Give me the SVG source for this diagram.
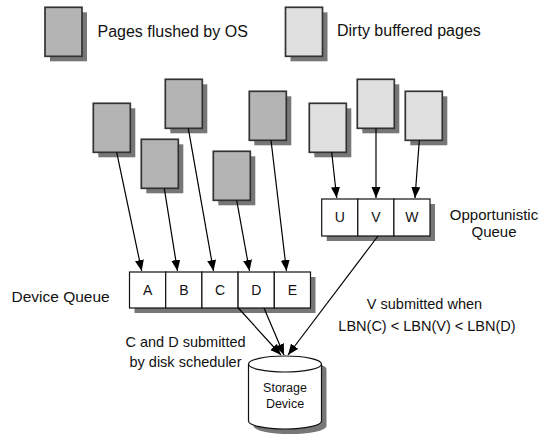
<svg xmlns="http://www.w3.org/2000/svg" width="542" height="434" viewBox="0 0 542 434">
  <defs>
    <style>
      text { font-family: "Liberation Sans", Arial, sans-serif; fill: #111; }
      .shadow { fill: #777; filter: url(#soft); }
      .page { stroke: #333; stroke-width: 1.7; }
      .dark { fill: #b4b4b4; }
      .light { fill: #e0e0e0; }
      .cell { fill: #fff; stroke: #111; stroke-width: 1.2; }
      .wire { stroke: #000; stroke-width: 1.2; fill: none; marker-end: url(#arrow); }
      .lbl { font-size: 14px; text-anchor: middle; }
      .legend { font-size: 16px; }
      .note { font-size: 14.5px; text-anchor: middle; }
    </style>
    <filter id="soft" x="-20%" y="-20%" width="140%" height="140%">
      <feGaussianBlur stdDeviation="0.7"/>
    </filter>
    <marker id="arrow" markerUnits="userSpaceOnUse" markerWidth="12" markerHeight="10" refX="11" refY="4.5" orient="auto">
      <path d="M0,0 L11,4.5 L0,9 z" fill="#000"/>
    </marker>
    <!-- drop shadow behind a page -->
    <g id="pageShape">
      <rect class="shadow" x="5" y="5" width="37" height="49"/>
    </g>
  </defs>

  <!-- legend -->
  <g id="legend-flushed">
    <use href="#pageShape" x="45" y="7.3"/>
    <rect class="page dark" x="45" y="7.3" width="37" height="49"/>
    <text class="legend" x="97.5" y="37">Pages flushed by OS</text>
  </g>
  <g id="legend-dirty">
    <use href="#pageShape" x="285.5" y="7.3"/>
    <rect class="page light" x="285.5" y="7.3" width="37" height="49"/>
    <text class="legend" x="337" y="35.5">Dirty buffered pages</text>
  </g>

  <!-- pages flushed by the OS -->
  <g id="page-a"><use href="#pageShape" x="93.3" y="103.3"/><rect class="page dark" x="93.3" y="103.3" width="37" height="49"/></g>
  <g id="page-b"><use href="#pageShape" x="141.3" y="139.3"/><rect class="page dark" x="141.3" y="139.3" width="37" height="49"/></g>
  <g id="page-c"><use href="#pageShape" x="165.3" y="79.3"/><rect class="page dark" x="165.3" y="79.3" width="37" height="49"/></g>
  <g id="page-d"><use href="#pageShape" x="213.3" y="151.3"/><rect class="page dark" x="213.3" y="151.3" width="37" height="49"/></g>
  <g id="page-e"><use href="#pageShape" x="249.3" y="91.3"/><rect class="page dark" x="249.3" y="91.3" width="37" height="49"/></g>

  <!-- dirty buffered pages -->
  <g id="page-u"><use href="#pageShape" x="309.3" y="103.3"/><rect class="page light" x="309.3" y="103.3" width="37" height="49"/></g>
  <g id="page-v"><use href="#pageShape" x="357.3" y="79.3"/><rect class="page light" x="357.3" y="79.3" width="37" height="49"/></g>
  <g id="page-w"><use href="#pageShape" x="405.3" y="91.3"/><rect class="page light" x="405.3" y="91.3" width="37" height="49"/></g>

  <!-- device queue -->
  <g id="device-queue">
    <rect class="shadow" x="134.5" y="277" width="181" height="36"/>
    <rect class="cell" x="129.5" y="272" width="36.2" height="36"/>
    <rect class="cell" x="165.7" y="272" width="36.2" height="36"/>
    <rect class="cell" x="201.9" y="272" width="36.2" height="36"/>
    <rect class="cell" x="238.1" y="272" width="36.2" height="36"/>
    <rect class="cell" x="274.3" y="272" width="36.2" height="36"/>
    <text class="lbl" x="147.6" y="294.5">A</text>
    <text class="lbl" x="183.8" y="294.5">B</text>
    <text class="lbl" x="220" y="294.5">C</text>
    <text class="lbl" x="256.2" y="294.5">D</text>
    <text class="lbl" x="292.4" y="294.5">E</text>
    <text x="11.5" y="302" style="font-size:15.5px">Device Queue</text>
  </g>

  <!-- opportunistic queue -->
  <g id="opportunistic-queue">
    <rect class="shadow" x="326.7" y="204" width="108.3" height="37"/>
    <rect class="cell" x="321.7" y="199" width="36.1" height="37"/>
    <rect class="cell" x="357.8" y="199" width="36.1" height="37"/>
    <rect class="cell" x="393.9" y="199" width="36.1" height="37"/>
    <text class="lbl" x="339.7" y="222">U</text>
    <text class="lbl" x="375.8" y="222">V</text>
    <text class="lbl" x="411.9" y="222">W</text>
    <text x="494" y="220" style="font-size:15px;text-anchor:middle">Opportunistic</text>
    <text x="494" y="237" style="font-size:15px;text-anchor:middle">Queue</text>
  </g>

  <!-- storage device (cylinder) -->
  <g id="storage-device">
    <path class="shadow" d="M253.5,369 A36.5,8 0 0 1 326.5,369 L326.5,426 A36.5,8 0 0 1 253.5,426 Z"/>
    <path d="M248.5,364 A36.5,8 0 0 1 321.5,364 L321.5,421 A36.5,8 0 0 1 248.5,421 Z" fill="#fff" stroke="#111" stroke-width="1.2"/>
    <path d="M248.5,364 A36.5,8 0 0 0 321.5,364" fill="none" stroke="#111" stroke-width="1.2"/>
    <text x="285" y="392" style="font-size:12.5px;text-anchor:middle">Storage</text>
    <text x="285" y="408" style="font-size:12.5px;text-anchor:middle">Device</text>
  </g>

  <!-- annotations -->
  <g id="notes">
    <text class="note" x="185.5" y="347">C and D submitted</text>
    <text class="note" x="185.5" y="367">by disk scheduler</text>
    <text class="note" x="424.5" y="309">V submitted when</text>
    <text class="note" x="427" y="330.5">LBN(C) &lt; LBN(V) &lt; LBN(D)</text>
  </g>

  <!-- connectors -->
  <g id="connectors">
    <line class="wire" x1="116.7" y1="152.3" x2="141.7" y2="271"/>
    <line class="wire" x1="164.3" y1="188.3" x2="177.5" y2="271"/>
    <line class="wire" x1="188.3" y1="128.3" x2="213.5" y2="271"/>
    <line class="wire" x1="236.7" y1="200.3" x2="249.5" y2="271"/>
    <line class="wire" x1="271" y1="140.3" x2="286.5" y2="271"/>
    <line class="wire" x1="331.7" y1="152.3" x2="336.7" y2="198"/>
    <line class="wire" x1="376" y1="128.3" x2="376" y2="198"/>
    <line class="wire" x1="419.3" y1="140.3" x2="415" y2="198"/>
    <line class="wire" x1="238.3" y1="308" x2="281" y2="355"/>
    <line class="wire" x1="264" y1="308" x2="284" y2="355"/>
    <line class="wire" x1="378" y1="236" x2="288" y2="355"/>
  </g>
</svg>
